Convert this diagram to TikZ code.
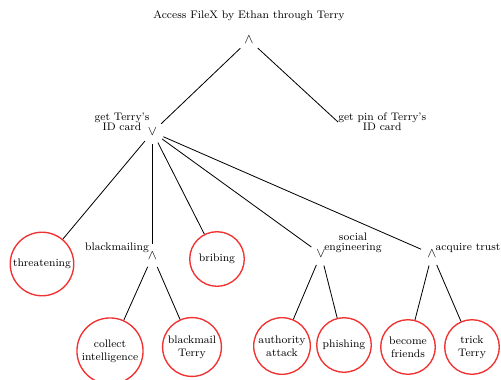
\documentclass[tikz,border=0pt]{standalone}
\definecolor{leafred}{RGB}{240,50,50}
\tikzset{
  gate/.style={circle, minimum size=17pt, inner sep=0pt, font=\normalsize},
  leaf/.style={circle, draw=leafred, line width=1pt, minimum size=40pt, inner sep=1.5pt, align=center, font=\footnotesize},
  glabel/.style={align=center, inner sep=0pt, font=\footnotesize},
  branch/.style={semithick}
}
\begin{document}
\begin{tikzpicture}[x=0.733pt,y=-0.733pt]
  \useasboundingbox (0,0) rectangle (501,379);
  % goal and the two steps under it
  \node[glabel] (goal) at (249,16) {Access FileX by Ethan through Terry};
  \node[gate] (root) at (249,40) {$\wedge$};
  \node[gate] (idcard) at (152.5,132) {$\vee$};
  \node[glabel] (idcardlbl) at (122,122) {get Terry's\\[-2.2pt]ID card};
  \node[glabel, anchor=west] (pin) at (338,122) {get pin of Terry's\\[-2.2pt]ID card};
  % ways to get the card
  \node[leaf] (threat) at (42,264) {threatening};
  \node[gate] (blackm) at (152.5,256) {$\wedge$};
  \node[glabel] (blackmlbl) at (117,248) {blackmailing};
  \node[leaf] (bribe) at (217,259) {bribing};
  \node[gate] (social) at (321,254) {$\vee$};
  \node[glabel] (sociallbl) at (353,243) {social\\[-2.2pt]engineering};
  \node[gate] (trust) at (432,254) {$\wedge$};
  \node[glabel] (trustlbl) at (468,248) {acquire trust};
  % leaves
  \node[leaf] (collect) at (110,351) {collect\\intelligence};
  \node[leaf] (bmterry) at (192,347) {blackmail\\Terry};
  \node[leaf] (authority) at (282,346) {authority\\attack};
  \node[leaf] (phish) at (344,345) {phishing};
  \node[leaf] (friends) at (408,347) {become\\friends};
  \node[leaf] (trick) at (472,347) {trick\\Terry};
  % branches
  \draw[branch] (root) -- (idcard);
  \draw[branch] (root) -- (pin.west);
  \draw[branch] (idcard) -- (threat);
  \draw[branch] (idcard) -- (blackm);
  \draw[branch] (idcard) -- (bribe);
  \draw[branch] (idcard) -- (social);
  \draw[branch] (idcard) -- (trust);
  \draw[branch] (blackm) -- (collect);
  \draw[branch] (blackm) -- (bmterry);
  \draw[branch] (social) -- (authority);
  \draw[branch] (social) -- (phish);
  \draw[branch] (trust) -- (friends);
  \draw[branch] (trust) -- (trick);
\end{tikzpicture}
\end{document}
